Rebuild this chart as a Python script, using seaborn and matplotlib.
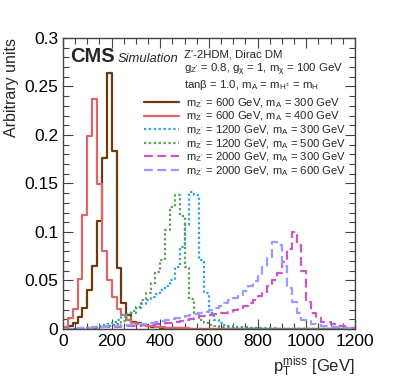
import numpy as np
import pandas as pd
import seaborn as sns
import matplotlib.pyplot as plt
from matplotlib.lines import Line2D
from matplotlib.ticker import MultipleLocator

# Binning: 20 GeV bins from 0 to 1200 GeV
edges = np.arange(0, 1220, 20)
centers = edges[:-1] + 10

# Normalised pTmiss distributions, one value per bin
mz600_ma300 = [0, 0.003, 0.006, 0.012, 0.022, 0.040, 0.065, 0.111, 0.176, 0.264,
               0.184, 0.063, 0.027, 0.0145, 0.0075, 0.006, 0.004, 0.003, 0.002, 0.002,
               0.001, 0.001, 0.001, 0.001, 0.001, 0.001, 0.0005, 0.0005, 0, 0,
               0, 0, 0, 0, 0, 0, 0, 0, 0, 0,
               0, 0, 0, 0, 0, 0, 0, 0, 0, 0,
               0, 0, 0, 0, 0, 0, 0, 0, 0, 0]
mz600_ma400 = [0.002, 0.011, 0.021, 0.052, 0.118, 0.199, 0.237, 0.149, 0.080, 0.051,
               0.033, 0.021, 0.014, 0.009, 0.006, 0.005, 0.004, 0.003, 0.003, 0.002,
               0.002, 0.001, 0.001, 0.001, 0.001, 0.001, 0.0005, 0.0005, 0.0005, 0.0005,
               0, 0, 0, 0, 0, 0, 0, 0, 0, 0,
               0, 0, 0, 0, 0, 0, 0, 0, 0, 0,
               0, 0, 0, 0, 0, 0, 0, 0, 0, 0]
mz1200_ma300 = [0, 0, 0, 0.001, 0.001, 0.001, 0.002, 0.003, 0.004, 0.005,
                0.007, 0.009, 0.012, 0.015, 0.019, 0.022, 0.026, 0.030, 0.033, 0.036,
                0.040, 0.044, 0.051, 0.064, 0.085, 0.107, 0.141, 0.138, 0.071, 0.037,
                0.016, 0.009, 0.006, 0.004, 0.003, 0.002, 0.002, 0.002, 0.001, 0.001,
                0.001, 0.001, 0.001, 0.001, 0.0005, 0, 0, 0, 0, 0,
                0, 0, 0, 0, 0, 0, 0, 0, 0, 0]
mz1200_ma500 = [0, 0, 0, 0, 0, 0.001, 0.001, 0.002, 0.002, 0.003,
                0.004, 0.005, 0.008, 0.011, 0.016, 0.023, 0.030, 0.037, 0.047, 0.059,
                0.071, 0.102, 0.126, 0.138, 0.116, 0.064, 0.031, 0.016, 0.009, 0.006,
                0.004, 0.003, 0.002, 0.002, 0.002, 0.001, 0.001, 0.001, 0.001, 0.001,
                0.0005, 0.0005, 0, 0, 0, 0, 0, 0, 0, 0,
                0, 0, 0, 0, 0, 0, 0, 0, 0, 0]
mz2000_ma300 = [0, 0, 0, 0, 0.001, 0.001, 0.001, 0.001, 0.002, 0.002,
                0.002, 0.002, 0.003, 0.003, 0.003, 0.003, 0.004, 0.004, 0.004, 0.005,
                0.005, 0.006, 0.006, 0.007, 0.008, 0.009, 0.010, 0.011, 0.013, 0.013,
                0.014, 0.015, 0.016, 0.017, 0.018, 0.020, 0.022, 0.024, 0.027, 0.030,
                0.034, 0.037, 0.044, 0.050, 0.058, 0.069, 0.082, 0.1005, 0.087, 0.060,
                0.028, 0.016, 0.011, 0.0075, 0.0075, 0.005, 0.003, 0.003, 0.002, 0.001]
mz2000_ma600 = [0, 0, 0, 0.001, 0.001, 0.001, 0.002, 0.002, 0.002, 0.003,
                0.003, 0.003, 0.004, 0.004, 0.005, 0.005, 0.005, 0.006, 0.006, 0.007,
                0.008, 0.009, 0.010, 0.011, 0.012, 0.013, 0.014, 0.015, 0.016, 0.018,
                0.020, 0.022, 0.024, 0.027, 0.030, 0.032, 0.035, 0.039, 0.044, 0.049,
                0.056, 0.064, 0.073, 0.090, 0.087, 0.065, 0.042, 0.028, 0.016, 0.009,
                0.008, 0.005, 0.004, 0.003, 0.003, 0.002, 0.002, 0.001, 0.001, 0.001]

labels = [
    r"m$_{Z'}$ = 600 GeV, m$_{A}$ = 300 GeV",
    r"m$_{Z'}$ = 600 GeV, m$_{A}$ = 400 GeV",
    r"m$_{Z'}$ = 1200 GeV, m$_{A}$ = 300 GeV",
    r"m$_{Z'}$ = 1200 GeV, m$_{A}$ = 500 GeV",
    r"m$_{Z'}$ = 2000 GeV, m$_{A}$ = 300 GeV",
    r"m$_{Z'}$ = 2000 GeV, m$_{A}$ = 600 GeV",
]
series = [mz600_ma300, mz600_ma400, mz1200_ma300, mz1200_ma500, mz2000_ma300, mz2000_ma600]
colors = ["#6b3b0c", "#d9686b", "#2aa3dc", "#5e9c50", "#cc55cc", "#9a9aff"]
styles = ["-", "-", (0, (1, 1.2)), (0, (1, 1.2)), (0, (4, 2)), (0, (4, 2))]

sns.set_style("ticks")
plt.rcParams["font.family"] = ["Liberation Sans", "DejaVu Sans"]
plt.rcParams["mathtext.fontset"] = "custom"
plt.rcParams["mathtext.rm"] = "Liberation Sans"
plt.rcParams["mathtext.it"] = "Liberation Sans"
plt.rcParams["mathtext.bf"] = "Liberation Sans:bold"

fig = plt.figure(figsize=(3.95, 3.83), dpi=100)
ax = fig.add_axes([0.1595, 0.141, 0.739, 0.7598])

handles = []
for vals, col, ls, lab in zip(series, colors, styles, labels):
    df = pd.DataFrame({"pt": centers, "w": vals})
    sns.histplot(data=df, x="pt", weights="w", bins=60, binrange=(0, 1200),
                 element="step", fill=False, color=col, linestyle=ls, linewidth=1.6, ax=ax)
    handles.append(Line2D([], [], color=col, linestyle=ls, linewidth=1.6, label=lab))

ax.set_xlim(0, 1200)
ax.set_ylim(0, 0.3)
ax.xaxis.set_major_locator(MultipleLocator(200))
ax.xaxis.set_minor_locator(MultipleLocator(50))
ax.yaxis.set_major_locator(MultipleLocator(0.05))
ax.yaxis.set_minor_locator(MultipleLocator(0.01))
ax.set_yticks([0, 0.05, 0.1, 0.15, 0.2, 0.25, 0.3])
ax.set_yticklabels(["0", "0.05", "0.1", "0.15", "0.2", "0.25", "0.3"])
ax.tick_params(which="both", direction="in", top=True, right=True, labelsize=12.5, colors="#444444",
               labelcolor="black", width=0.8)
ax.tick_params(which="major", length=7)
ax.tick_params(which="minor", length=4)
for sp in ax.spines.values():
    sp.set_color("#444444")
    sp.set_linewidth(1.0)

ax.set_ylabel("Arbitrary units", fontsize=11.5, loc="top")
ax.set_xlabel(r"p$_{T}^{miss}$ [GeV]", fontsize=12, loc="right")

ax.text(0.024, 0.9165, "CMS", transform=ax.transAxes, fontsize=14.5, fontweight="bold",
        va="baseline")
ax.text(0.186, 0.9165, "Simulation", transform=ax.transAxes, fontsize=9.4, style="italic",
        va="baseline")
ax.text(0.4144, 0.934, "Z'-2HDM, Dirac DM", transform=ax.transAxes, fontsize=8.2, va="baseline")
ax.text(0.4144, 0.884, r"g$_{Z'}$ = 0.8, g$_{\chi}$ = 1, m$_{\chi}$ = 100 GeV",
        transform=ax.transAxes, fontsize=8.2, va="baseline")
ax.text(0.4144, 0.827, r"tan$\beta$ = 1.0, m$_{A}$ = m$_{H^{\pm}}$ = m$_{H}$",
        transform=ax.transAxes, fontsize=8.2, va="baseline")

ax.legend(handles=handles, loc="upper left", bbox_to_anchor=(0.279, 0.80), frameon=False,
          fontsize=8.1, handlelength=3.1, handletextpad=0.6, labelspacing=0.0,
          borderaxespad=0, borderpad=0)

fig.savefig("out.png", dpi=100)
